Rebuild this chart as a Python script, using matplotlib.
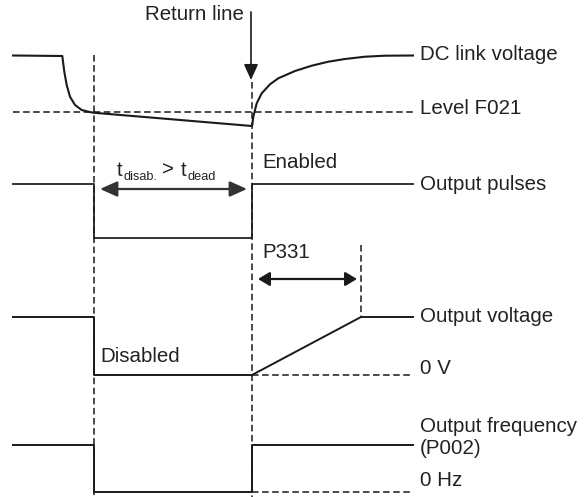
import matplotlib
matplotlib.use('Agg')
import matplotlib.pyplot as plt

# timing points (x, px) and signal levels (y, px, top = 0)
t_start, t_off, t_on, t_ramp, t_end = 13, 94, 252, 361, 413

# DC link voltage: flat, decay to F021, slow sag, recovery
dc_x = [13, 62.3, 64.3, 66.7, 70, 75, 81.7, 88.3, 93.3, 251.7, 252.3, 253.3,
        256.7, 261.7, 270, 278.3, 295, 311.7, 328.3, 345, 365, 385, 413]
dc_y = [55.5, 56, 71.7, 85, 96.7, 105, 110, 111.7, 112.7, 126, 125, 116.7,
        103.3, 93.3, 84.3, 78.3, 71, 65.7, 61.7, 59, 56.7, 55.7, 55.5]
level_f021 = 112

pulse_x = [t_start, t_off, t_off, t_on, t_on, t_end]
pulse_y = [184, 184, 238, 238, 184, 184]

volt_x = [t_start, t_off, t_off, t_on, t_ramp, t_end]
volt_y = [317, 317, 375, 375, 317, 317]
volt_zero = 375

freq_x = [t_start, t_off, t_off, t_on, t_on, t_end]
freq_y = [445, 445, 492, 492, 445, 445]
freq_zero = 492

right_labels = ['DC link voltage', 'Level F021', 'Output pulses', 'Output voltage',
                '0 V', 'Output frequency', '(P002)', '0 Hz']
right_label_y = [55, 108, 185, 316, 368, 427, 449, 481]

plt.rcParams['font.family'] = ['Liberation Sans', 'DejaVu Sans']
ink = '#1a1a1a'
txt = '#222222'
fs = 14.8
sub_fs = 9.2
dash = (0, (4.3, 2.3))

fig = plt.figure(figsize=(5.85, 4.97), dpi=100)
ax = fig.add_axes([0, 0, 1, 1])
ax.set_xlim(0, 585)
ax.set_ylim(497, 0)
ax.axis('off')

# signals
ax.plot(dc_x, dc_y, color=ink, lw=1.5, solid_joinstyle='round')
ax.plot(pulse_x, pulse_y, color='#333333', lw=1.4)
ax.plot(volt_x, volt_y, color=ink, lw=1.4)
ax.plot(freq_x, freq_y, color=ink, lw=1.4)

# dashed reference lines
ax.plot([t_start, t_end], [level_f021, level_f021], color=ink, lw=1.1, ls=dash)
ax.plot([t_on, t_end], [volt_zero, volt_zero], color=ink, lw=1.1, ls=dash)
ax.plot([t_on, t_end], [freq_zero, freq_zero], color=ink, lw=1.1, ls=dash)
ax.plot([t_off, t_off], [55, 497], color=ink, lw=1.1, ls=dash)
ax.plot([t_on, t_on], [82, 497], color=ink, lw=1.1, ls=dash)
ax.plot([t_ramp, t_ramp], [245, 317], color=ink, lw=1.1, ls=dash)

# arrows
ax.annotate('', xy=(t_on - 1, 80), xytext=(t_on - 1, 12),
            arrowprops=dict(arrowstyle='-|>,head_length=0.95,head_width=0.43',
                            color=ink, lw=1.2, shrinkA=0, shrinkB=0, mutation_scale=10))
ax.annotate('', xy=(247, 189), xytext=(100, 189),
            arrowprops=dict(arrowstyle='<|-|>,head_length=1.05,head_width=0.47',
                            color='#333333', lw=1.6, shrinkA=0, shrinkB=0, mutation_scale=10))
ax.annotate('', xy=(357, 279), xytext=(258, 279),
            arrowprops=dict(arrowstyle='<|-|>,head_length=0.7,head_width=0.42',
                            color=ink, lw=1.6, shrinkA=0, shrinkB=0, mutation_scale=10))

# texts
for label, y in zip(right_labels, right_label_y):
    ax.text(420, y, label, fontsize=fs, color=txt, ha='left', va='center')
ax.text(244, 15, 'Return line', fontsize=fs, color=txt, ha='right', va='center')
ax.text(262, 163, 'Enabled', fontsize=fs, color=txt, ha='left', va='center')
ax.text(100, 357, 'Disabled', fontsize=fs, color=txt, ha='left', va='center')
ax.text(262, 253, 'P331', fontsize=fs, color=txt, ha='left', va='center')

# t_disab. > t_dead, built from pieces so the subscripts stay small
ax.text(117, 176, 't', fontsize=fs, color=txt, ha='left', va='baseline')
ax.text(123.5, 180, 'disab.', fontsize=sub_fs, color=txt, ha='left', va='baseline')
ax.text(162, 176, '>', fontsize=fs, color=txt, ha='left', va='baseline')
ax.text(181, 176, 't', fontsize=fs, color=txt, ha='left', va='baseline')
ax.text(187.5, 180, 'dead', fontsize=sub_fs, color=txt, ha='left', va='baseline')

fig.savefig('out.png', dpi=100)
